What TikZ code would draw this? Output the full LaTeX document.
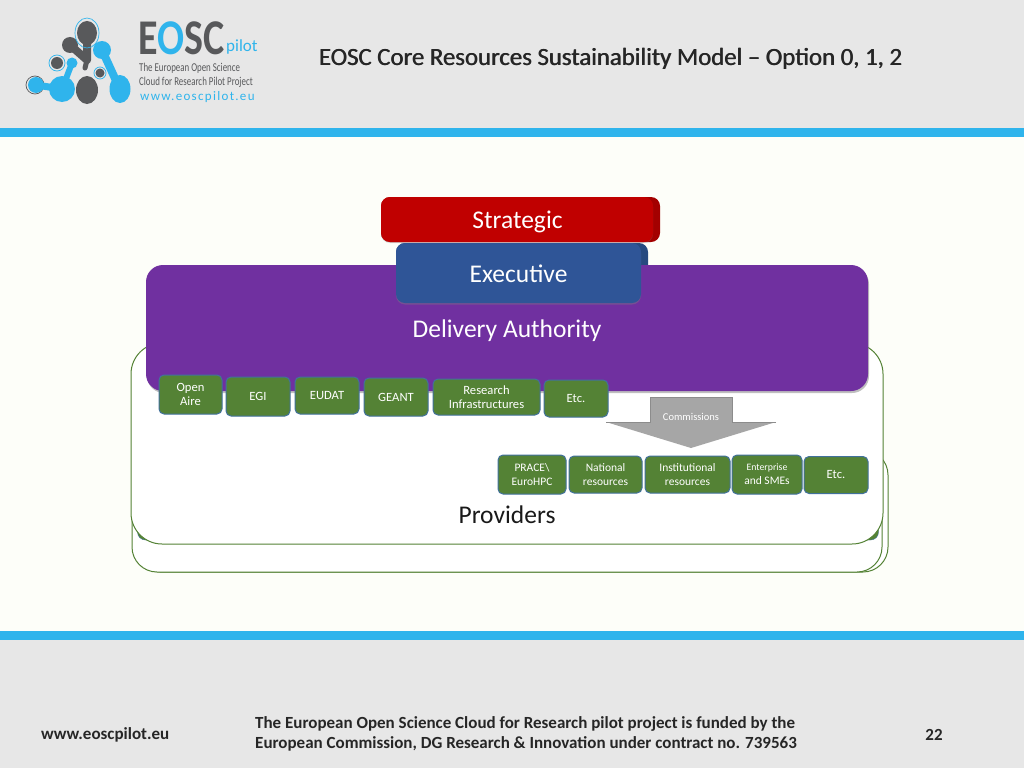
\documentclass[tikz,border=0pt]{standalone}
\usepackage{fontspec}
\setmainfont{Carlito}
\usetikzlibrary{shadows}
\definecolor{headgrey}{HTML}{E7E7E7}
\definecolor{barblue}{HTML}{2FB4EC}
\definecolor{pagewhite}{HTML}{FDFEF9}
\definecolor{logogrey}{HTML}{58595B}
\definecolor{strategicred}{HTML}{C00000}
\definecolor{execblue}{HTML}{2F5597}
\definecolor{execdark}{HTML}{264A80}
\definecolor{authpurple}{HTML}{7030A0}
\definecolor{unitgreen}{HTML}{548235}
\definecolor{unitedge}{HTML}{41719C}
\definecolor{arrowgrey}{HTML}{A6A6A6}
\tikzset{
  provbox/.style={draw=unitgreen,fill=white,line width=1pt,rounded corners=25pt,inner sep=0},
  unitbox/.style={draw=unitedge,fill=unitgreen,line width=1pt,rounded corners=5pt,inner sep=0,
    text=white,font=\fontsize{12.6}{14}\selectfont,align=center},
  unitsmall/.style={unitbox,font=\fontsize{11.5}{14}\selectfont},
  topbox/.style={rounded corners=9pt,inner sep=0,text=white,font=\fontsize{25.5}{28}\selectfont},
  foot/.style={font=\fontsize{17}{20}\bfseries\selectfont,text=black!85,inner sep=0,align=left}
}
\begin{document}
\begin{tikzpicture}[x=1pt,y=-1pt]
\useasboundingbox (0,0) rectangle (1024,768);
\fill[headgrey] (0,0) rectangle (1024,768);
\fill[pagewhite] (0,137) rectangle (1024,631);
\fill[barblue] (0,128) rectangle (1024,137);
\fill[barblue] (0,631) rectangle (1024,640);
% logo
\fill[logogrey] (87,33) ellipse (10 and 12);
\fill[logogrey] (70,45) circle (8);
\fill[logogrey] (57,63) circle (6);
\fill[logogrey] (87,90) ellipse (11 and 14);
\fill[logogrey] (100,73) circle (4.5);
\draw[logogrey,line width=8pt,line cap=round,line join=round] (70,45) -- (87,60) -- (87,36);
\draw[logogrey,line width=5pt,line cap=round] (87,60) -- (85,68);
\draw[barblue,line width=.7pt] (87,33) ellipse (12 and 15);
\draw[barblue,line width=.7pt] (57,63) circle (8);
\draw[barblue,line width=.7pt] (100,73) circle (6);
\draw[logogrey,line width=.7pt] (35,85) circle (9);
\fill[barblue] (102,50) circle (9);
\fill[barblue] (120,89) ellipse (10.5 and 14);
\fill[barblue] (62,89) circle (13);
\fill[barblue] (72,63) circle (5.5);
\fill[barblue] (36,85) circle (8);
\draw[barblue,line width=8pt] (102,50) -- (118,85);
\draw[barblue,line width=6pt] (72,63) -- (64,84);
\draw[barblue,line width=7pt] (62,89) -- (36,85);
\node[inner sep=0,anchor=base west,text depth=0pt,text=logogrey,font=\fontsize{40}{40}\bfseries\selectfont] (logoword) at (138,55) {\scalebox{1}[1.25]{E\textcolor{barblue}{O}SC}};
\node[inner sep=0,anchor=west,text=barblue,font=\fontsize{17}{18}\selectfont] (logopilot) at (226,47) {pilot};
\node[inner sep=0,anchor=west,text=logogrey,font=\fontsize{12}{13}\selectfont] (logotagone) at (139,68) {\scalebox{.74}[1]{The European Open Science}};
\node[inner sep=0,anchor=west,text=logogrey,font=\fontsize{12}{13}\selectfont] (logotagtwo) at (139,82) {\scalebox{.74}[1]{Cloud for Research Pilot Project}};
\node[inner sep=0,anchor=west,text=barblue,font=\fontsize{13}{14}\selectfont\addfontfeature{LetterSpace=10}] (logourl) at (140,97) {www.eoscpilot.eu};
% title
\node[inner sep=0,text=black!85,font=\fontsize{24.8}{28}\selectfont] (titleback) at (611,58.5) {EOSC Core Resources Sustainability Model -- Option 0, 1, 2};
\node[inner sep=0,text=black!85,font=\fontsize{24.8}{28}\selectfont] (title) at (610.4,58.5) {EOSC Core Resources Sustainability Model -- Option 0, 1, 2};
% providers
\node[provbox,minimum width=753pt,minimum height=122pt] (provback) at (511.5,511) {};
\node[provbox,minimum width=750pt,minimum height=122pt] (provmid) at (507,511) {};
\node[draw=unitedge,fill=unitgreen,rounded corners=8pt,inner sep=0,minimum width=741pt,minimum height=80pt] (provdark) at (508,500) {};
\node[provbox,rounded corners=31pt,minimum width=752pt,minimum height=201pt] (provfront) at (507,443.5) {};
\node[inner sep=0,font=\fontsize{25.5}{28}\selectfont,text=black!90] (providers) at (507,515) {Providers};
% strategic and executive, the back plates sit under the authority
\node[topbox,fill=execdark,minimum width=252pt,minimum height=60pt] (executiveback) at (522,273) {};
\node[rounded corners=17pt,fill=authpurple,drop shadow={shadow xshift=1pt,shadow yshift=-2pt,opacity=.5},inner sep=0,minimum width=722pt,minimum height=126pt] (authority) at (507,328) {};
\node[inner sep=0,text=white,font=\fontsize{25.5}{28}\selectfont] (authlabel) at (507,330.5) {Delivery Authority};
\node[topbox,fill=strategicred!85!black,minimum width=279pt,minimum height=45pt] (strategicback) at (520.5,219.5) {};
\node[topbox,fill=strategicred,drop shadow={shadow xshift=0pt,shadow yshift=-1pt,opacity=.3},minimum width=272pt,minimum height=45pt] (strategic) at (517,219.5) {};
\node[inner sep=0,text=white,font=\fontsize{25.5}{28}\selectfont] (strategiclabel) at (517.5,222) {Strategic};
\node[topbox,fill=execblue,drop shadow={shadow xshift=0pt,shadow yshift=-1.5pt,opacity=.4},minimum width=245pt,minimum height=60pt] (executive) at (518.5,273) {};
\node[inner sep=0,text=white,font=\fontsize{25.5}{28}\selectfont] (executivelabel) at (518.5,274) {Executive};
% delivery units
\node[unitbox,minimum width=63pt,minimum height=39pt] (openaire) at (190.5,394.5) {Open\\Aire};
\node[unitbox,minimum width=64pt,minimum height=39pt] (egi) at (258,396.5) {EGI};
\node[unitbox,minimum width=64pt,minimum height=37pt] (eudat) at (327,395.5) {EUDAT};
\node[unitbox,minimum width=64pt,minimum height=38pt] (geant) at (396,397) {GEANT};
\node[unitbox,minimum width=107pt,minimum height=36pt] (research) at (486.5,397) {Research\\Infrastructures};
\node[unitbox,minimum width=64pt,minimum height=37pt] (etcleft) at (576,398.5) {Etc.};
% commissions
\fill[arrowgrey] (650,397) -- (732,397) -- (732,422) -- (776,422) -- (691,448) -- (606,422) -- (650,422) -- cycle;
\draw[black!45,line width=.5pt] (606,422) -- (650,422) -- (650,397) -- (732,397) -- (732,422) -- (776,422);
\node[inner sep=0,text=white,font=\fontsize{10.5}{12}\selectfont] (commissions) at (691,416.5) {Commissions};
% commissioned units
\node[unitsmall,minimum width=68pt,minimum height=39pt] (prace) at (532,474.5) {\raisebox{-.7pt}{PRACE\textbackslash}\\\raisebox{-.7pt}{EuroHPC}};
\node[unitsmall,minimum width=73pt,minimum height=37pt] (national) at (605.5,474.5) {\raisebox{-.7pt}{National}\\\raisebox{-.7pt}{resources}};
\node[unitsmall,minimum width=85pt,minimum height=37pt] (institutional) at (687.5,474.5) {\raisebox{-.7pt}{Institutional}\\\raisebox{-.7pt}{resources}};
\node[unitsmall,minimum width=70pt,minimum height=39pt] (enterprise) at (767,474.5) {{\fontsize{9.8}{14}\selectfont\raisebox{-.7pt}{Enterprise}}\\\raisebox{-.7pt}{and SMEs}};
\node[unitbox,minimum width=64pt,minimum height=37pt] (etcright) at (836,475) {Etc.};
% footer
\node[foot,anchor=west] (site) at (41,734.5) {www.eoscpilot.eu};
\node[foot,anchor=west] (funding) at (255,733.5) {The European Open Science Cloud for Research pilot project is funded by the\\European Commission, DG Research \& Innovation under contract no. 739563};
\node[foot] (pageno) at (934,734.5) {22};
\end{tikzpicture}
\end{document}
